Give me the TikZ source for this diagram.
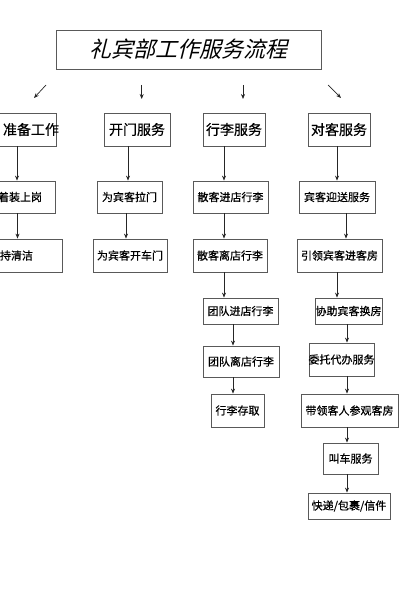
\documentclass[tikz,border=0pt]{standalone}
\usepackage{fontspec}
\newfontfamily\cjk[FakeBold=0.6]{Noto Sans CJK SC}
\newfontfamily\cjkit[FakeSlant=0.25]{Noto Sans CJK SC}
\usetikzlibrary{arrows.meta}
\tikzset{
  box/.style={draw=black!65, line width=0.8pt, rectangle, inner sep=0pt, font=\cjk\fontsize{11}{13}\selectfont, text=black},
  topbox/.style={box, font=\cjk\fontsize{14}{16}\selectfont},
  arr/.style={draw=black!85, line width=0.7pt, -{Stealth[length=5pt,width=4pt]}},
}
\begin{document}
\begin{tikzpicture}[x=1pt,y=-1pt]
\useasboundingbox (0,0) rectangle (400,607);
% title
\node[box, minimum width=265pt, minimum height=39pt, font=\cjkit\fontsize{22}{26}\selectfont] (t) at (188.5,49.5) {\makebox[0pt]{礼宾部工作服务流程}};
\coordinate (s1) at (46,85); \coordinate (e1) at (34,98);
\coordinate (s2) at (141.7,85); \coordinate (e2) at (141.7,99);
\coordinate (s3) at (243,85); \coordinate (e3) at (243,99);
\coordinate (s4) at (328,85); \coordinate (e4) at (341,98);
\draw[arr] (s1) -- (e1);
\draw[arr] (s2) -- (e2);
\draw[arr] (s3) -- (e3);
\draw[arr] (s4) -- (e4);
% row 1
\node[topbox, minimum width=59pt, minimum height=33pt] (a1) at (26.5,129.5) {\makebox[0pt]{\hspace{9pt}准备工作}};
\node[topbox, minimum width=66pt, minimum height=33pt] (b1) at (137,129.5) {\makebox[0pt]{开门服务}};
\node[topbox, minimum width=62pt, minimum height=33pt] (c1) at (234,129.5) {\makebox[0pt]{行李服务}};
\node[topbox, minimum width=62pt, minimum height=33pt] (d1) at (339,129.5) {\makebox[0pt]{对客服务}};
% row 2
\node[box, minimum width=58pt, minimum height=32pt] (a2) at (26,197) {\makebox[0pt]{着装上岗\hspace{12pt}}};
\node[box, minimum width=65pt, minimum height=32pt] (b2) at (129.5,197) {\makebox[0pt]{为宾客拉门}};
\node[box, minimum width=75pt, minimum height=32pt] (c2) at (230.5,197) {\makebox[0pt]{散客进店行李}};
\node[box, minimum width=76pt, minimum height=32pt] (d2) at (337,197) {\makebox[0pt]{宾客迎送服务}};
% row 3
\node[box, minimum width=65pt, minimum height=33pt] (a3) at (29.5,255.5) {\makebox[0pt]{保持清洁\hspace{37pt}}};
\node[box, minimum width=74pt, minimum height=33pt] (b3) at (130,255.5) {\makebox[0pt]{为宾客开车门}};
\node[box, minimum width=74pt, minimum height=33pt] (c3) at (230,255.5) {\makebox[0pt]{散客离店行李}};
\node[box, minimum width=85pt, minimum height=33pt] (d3) at (339.5,255.5) {\makebox[0pt]{引领宾客进客房}};
% row 4
\node[box, minimum width=75pt, minimum height=26pt] (c4) at (240.5,311) {\makebox[0pt]{团队进店行李}};
\node[box, minimum width=67pt, minimum height=26pt] (d4) at (348.5,311) {\makebox[0pt]{协助宾客换房}};
% row 5
\node[box, minimum width=76pt, minimum height=31pt] (c5) at (241,361.5) {\makebox[0pt]{团队离店行李}};
\node[box, minimum width=65pt, minimum height=33pt] (d5) at (341.5,359.5) {\makebox[0pt]{委托代办服务}};
% row 6
\node[box, minimum width=53pt, minimum height=33pt] (c6) at (237.5,410.5) {\makebox[0pt]{行李存取}};
\node[box, minimum width=97pt, minimum height=33pt] (d6) at (349.5,410.5) {\makebox[0pt]{带领客人参观客房}};
% rows 7-8
\node[box, minimum width=55pt, minimum height=31pt] (d7) at (350.5,458.5) {\makebox[0pt]{叫车服务}};
\node[box, minimum width=82pt, minimum height=26pt] (d8) at (349,506) {\makebox[0pt]{快递/包裹/信件}};
% connectors
\draw[arr] (a1.south -| 17,0) -- (a2.north -| 17,0);
\draw[arr] (a2.south -| 17.5,0) -- (a3.north -| 17.5,0);
\draw[arr] (b1.south -| 128,0) -- (b2.north -| 128,0);
\draw[arr] (b2.south -| 126,0) -- (b3.north -| 126,0);
\draw[arr] (c1.south -| 224,0) -- (c2.north -| 224,0);
\draw[arr] (c2.south -| 224,0) -- (c3.north -| 224,0);
\draw[arr] (c3.south -| 224,0) -- (c4.north -| 224,0);
\draw[arr] (c4.south -| 233,0) -- (c5.north -| 233,0);
\draw[arr] (c5.south -| 233,0) -- (c6.north -| 233,0);
\draw[arr] (d1.south -| 337,0) -- (d2.north -| 337,0);
\draw[arr] (d2.south -| 346,0) -- (d3.north -| 346,0);
\draw[arr] (d3.south -| 337,0) -- (d4.north -| 337,0);
\draw[arr] (d4.south -| 347,0) -- (d5.north -| 347,0);
\draw[arr] (d5.south -| 347,0) -- (d6.north -| 347,0);
\draw[arr] (d6.south -| 347,0) -- (d7.north -| 347,0);
\draw[arr] (d7.south -| 347,0) -- (d8.north -| 347,0);
\end{tikzpicture}
\end{document}
